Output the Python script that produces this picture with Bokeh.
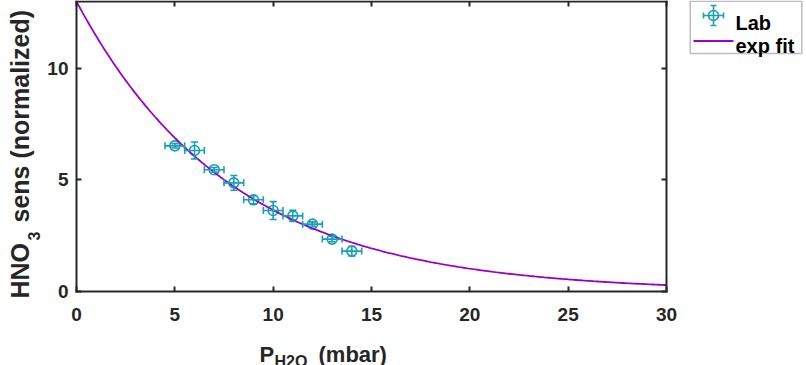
import numpy as np
from bokeh.plotting import figure
from bokeh.models import (ColumnDataSource, Whisker, TeeHead, LinearAxis, BoxAnnotation,
                          Label, FixedTicker, Range1d)
from bokeh.embed import file_html
from bokeh.resources import INLINE

# ---- data ----
pressure = [5, 6, 7, 8, 9, 10, 11, 12, 13, 14]
pressure_err = [0.5, 0.5, 0.5, 0.5, 0.5, 0.5, 0.5, 0.5, 0.5, 0.5]
sens = [6.53, 6.32, 5.46, 4.87, 4.11, 3.63, 3.39, 3.02, 2.35, 1.81]
sens_err = [0.1, 0.38, 0.1, 0.33, 0.18, 0.4, 0.25, 0.1, 0.12, 0.22]
fit_amplitude = 13.0
fit_rate = 0.127
x_ticks = [0, 5, 10, 15, 20, 25, 30]
y_ticks = [0, 5, 10]
legend_labels = ["Lab", "exp fit"]
X_MIN, X_MAX = 0, 30
Y_MIN, Y_MAX = 0, 13

FONT = "Liberation Sans"
AX = "#262626"
TEAL = "#169fb8"
PURPLE = "#9900cc"

# ---- layout (canvas pixels) ----
W, H = 806, 365
BL, BR, BT, BB = 76, 666, 1, 291          # axes box edges
kx = (BR - BL) / (X_MAX - X_MIN)
ky = (BB - BT) / (Y_MAX - Y_MIN)
x_range = Range1d(X_MIN - BL / kx, X_MAX + (W - BR) / kx)
y_range = Range1d(Y_MIN - (H - BB) / ky, Y_MAX + BT / ky)


def px_to_x(cx):
    return X_MIN + (cx - BL) / kx


def px_to_y(cy):
    return Y_MIN + (BB - cy) / ky


p = figure(width=W, height=H, x_range=x_range, y_range=y_range,
           output_backend="svg", toolbar_location=None,
           x_axis_location=None, y_axis_location=None, min_border=0)
p.grid.visible = False
p.outline_line_color = None
p.background_fill_color = "white"
p.border_fill_color = "white"


def make_axis(loc, ticks, bounds, show_labels):
    ax = LinearAxis(fixed_location=loc, bounds=bounds)
    ax.ticker = FixedTicker(ticks=ticks)
    ax.axis_line_color = AX
    ax.axis_line_width = 2
    ax.axis_line_cap = "square"
    ax.major_tick_line_color = AX
    ax.major_tick_line_width = 2
    ax.major_tick_in = 5
    ax.major_tick_out = 0
    ax.minor_tick_line_color = None
    if show_labels:
        ax.major_label_text_font = FONT
        ax.major_label_text_font_style = "bold"
        ax.major_label_text_font_size = "19px"
        ax.major_label_text_color = AX
    else:
        ax.major_label_overrides = {t: "" for t in ticks}
        ax.major_label_text_font_size = "1px"
        ax.major_label_standoff = 0
    return ax


bottom = make_axis(Y_MIN, x_ticks, (X_MIN, X_MAX), True)
bottom.major_label_standoff = 16
left = make_axis(X_MIN, y_ticks, (Y_MIN, Y_MAX), True)
left.major_label_standoff = 8
right = make_axis(X_MAX, y_ticks, (Y_MIN, Y_MAX), False)
top = make_axis(Y_MAX, x_ticks, (X_MIN, X_MAX), False)
p.add_layout(bottom, "below")
p.add_layout(left, "left")
p.add_layout(right, "right")
p.add_layout(top, "above")

src = ColumnDataSource(dict(
    x=pressure, y=sens,
    xlo=[a - b for a, b in zip(pressure, pressure_err)],
    xhi=[a + b for a, b in zip(pressure, pressure_err)],
    ylo=[a - b for a, b in zip(sens, sens_err)],
    yhi=[a + b for a, b in zip(sens, sens_err)],
))


def head(size=7):
    return TeeHead(size=size, line_color=TEAL, line_width=1.6)


def errorbars(source, level="glyph", cap=7):
    p.add_layout(Whisker(base="y", lower="xlo", upper="xhi", dimension="width",
                         source=source, line_color=TEAL, line_width=1.6,
                         upper_head=head(cap), lower_head=head(cap), level=level))
    p.add_layout(Whisker(base="x", lower="ylo", upper="yhi", dimension="height",
                         source=source, line_color=TEAL, line_width=1.6,
                         upper_head=head(cap), lower_head=head(cap), level=level))


errorbars(src)
p.scatter("x", "y", source=src, marker="circle", size=10, line_color=TEAL,
          line_width=1.6, fill_color=None)

xs = np.linspace(X_MIN, X_MAX, 301)
ys = fit_amplitude * np.exp(-fit_rate * xs)
p.line(xs, ys, line_color=PURPLE, line_width=1.8)

# ---- legend, drawn MATLAB-style outside the axes box ----
LG_L, LG_R, LG_T, LG_B = 689.75, 801.25, 0.75, 53
p.add_layout(BoxAnnotation(left=px_to_x(LG_L), right=px_to_x(LG_R),
                           top=px_to_y(LG_T), bottom=px_to_y(LG_B),
                           fill_color="white", fill_alpha=1, line_color=AX,
                           line_width=1.5, level="underlay"))
icx, icy = 713, 15
icon = ColumnDataSource(dict(
    x=[px_to_x(icx)], y=[px_to_y(icy)],
    xlo=[px_to_x(icx - 10)], xhi=[px_to_x(icx + 10)],
    ylo=[px_to_y(icy + 10)], yhi=[px_to_y(icy - 10)]))
errorbars(icon, cap=6)
p.scatter("x", "y", source=icon, marker="circle", size=10, line_color=TEAL,
          line_width=1.6, fill_color=None)
p.line([px_to_x(693), px_to_x(733)], [px_to_y(40.5), px_to_y(40.5)],
       line_color=PURPLE, line_width=1.8)


def lbl(x, y, text, size, angle=0.0, color=AX):
    p.add_layout(Label(x=x, y=H - y, x_units="screen", y_units="screen", text=text,
                       text_font=FONT, text_font_style="bold", text_font_size=size,
                       text_color=color, text_baseline="alphabetic", text_align="left",
                       angle=angle))


lbl(735, 22, legend_labels[0], "20px", color="black")
lbl(735, 45.5, legend_labels[1], "20px", color="black")

# x-axis title: P_H2O (mbar)
lbl(259, 354, "P", "22px")
lbl(274, 361, "H2O", "16px")
lbl(318, 354, "(mbar)", "22px")
# y-axis title: HNO_3 sens (normalized)
lbl(19, 298, "HNO", "25px", np.pi / 2)
lbl(33, 240, "3", "16px", np.pi / 2)
lbl(19, 222, "sens (normalized)", "25px", np.pi / 2)

open("out.html", "w").write(file_html(p, INLINE))
